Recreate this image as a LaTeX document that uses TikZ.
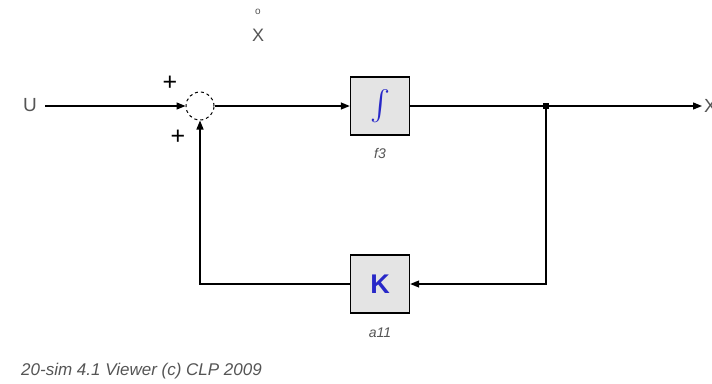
\documentclass[tikz,border=0pt]{standalone}
\usepackage{fontspec}
\setmainfont{Liberation Sans}
\usetikzlibrary{arrows.meta}
\definecolor{boxfill}{RGB}{228,228,228}
\definecolor{txtgray}{RGB}{85,85,85}
\definecolor{kblue}{RGB}{40,40,200}
\begin{document}
\begin{tikzpicture}[x=1pt,y=-1pt,
  wire/.style={line width=1.3pt,black},
  arr/.style={wire,-{Triangle[length=9pt,width=7pt]}},
  blockbox/.style={draw=black,line width=1.4pt,fill=boxfill,minimum width=59pt,minimum height=58pt,inner sep=0pt},
  lbl/.style={text=txtgray,inner sep=0pt},
  sign/.style={font=\fontsize{25}{25}\selectfont,inner sep=0pt}]
\useasboundingbox (0,0) rectangle (712,383);
\fill[white] (0,0) rectangle (712,383);
% nodes
\node[lbl,font=\fontsize{19}{20}\selectfont] (u) at (30,105) {U};
\coordinate (uend) at (45,106);
\node[draw=black,dashed,line width=1pt,circle,minimum size=28pt,inner sep=0pt] (sum) at (200,106) {};
\node[sign] (p1) at (170,83) {+};
\node[sign] (p2) at (178,137) {+};
\node[lbl,font=\fontsize{10}{10}\selectfont] (dot) at (258,12) {o};
\node[lbl,font=\fontsize{18}{19}\selectfont] (xx) at (258,35) {X};
\node[blockbox] (int) at (380,106) {\textcolor{kblue}{\scalebox{3}{$\int$}}};
\node[lbl,font=\fontsize{14}{15}\selectfont\itshape] (f3) at (380,153) {f3};
\node[fill=black,minimum size=6pt,inner sep=0pt] (junc) at (546,106) {};
\coordinate (outend) at (702,106);
\node[lbl,font=\fontsize{19}{20}\selectfont,anchor=west] (xout) at (704,106) {X};
\node[blockbox] (k) at (380,284) {\textcolor{kblue}{\fontsize{27}{27}\selectfont\bfseries K}};
\node[lbl,font=\fontsize{14}{15}\selectfont\itshape] (a11) at (380,333) {a11};
\node[lbl,font=\fontsize{17}{18}\selectfont\itshape,anchor=west] (foot) at (21,371) {20-sim 4.1 Viewer (c) CLP 2009};
% connectors
\draw[arr] (uend) -- (sum.west);
\draw[arr] (sum.east) -- (int.west);
\draw[wire] (int.east) -- (junc.center);
\draw[arr] (junc.center) -- (outend);
\draw[arr] (junc.center) |- (k.east);
\draw[arr] (k.west) -| (sum.south);
\end{tikzpicture}
\end{document}
